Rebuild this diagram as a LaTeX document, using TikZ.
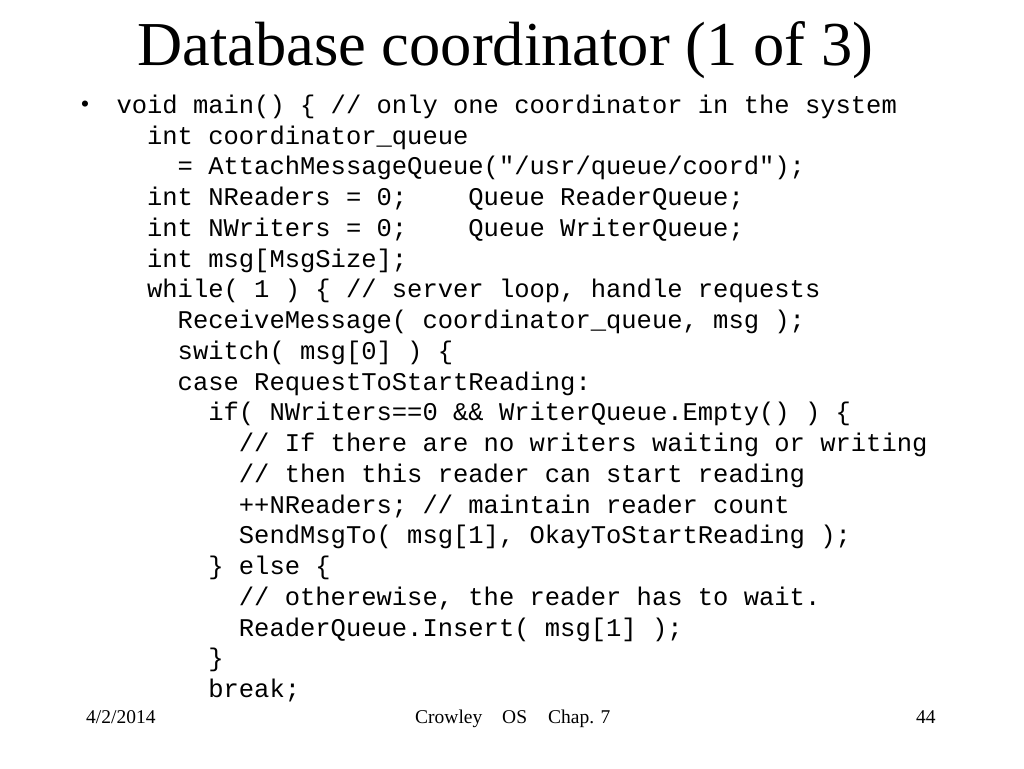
\documentclass[tikz,border=0pt]{standalone}
\usepackage{fontspec}
\setmainfont{Liberation Serif}
\setmonofont{Liberation Mono}
\begin{document}
\begin{tikzpicture}[x=1pt,y=-1pt,
  code/.style={anchor=base west,inner sep=0pt,outer sep=0pt,font=\fontsize{25.5}{30.74}\selectfont\ttfamily},
  title/.style={anchor=base west,inner sep=0pt,font=\fontsize{62.5}{70}\selectfont},
  foot/.style={anchor=base west,inner sep=0pt,font=\fontsize{19.5}{22}\selectfont}]
\path[use as bounding box,fill=white] (0,0) rectangle (1024,768);
\def\cx#1{116.5+#1*15.3}
\node[title] (ttl) at (137,66) {Database coordinator (1 of 3)};
\node[inner sep=0pt,font=\fontsize{25.5}{30}\selectfont] (bul) at (85,107) {•};
\node[code] (l0)  at ({\cx{0}},113.5) {void main() \{ // only one coordinator in the system};
\node[code] (l1)  at ({\cx{2}},144.24) {int coordinator\_queue};
\node[code] (l2)  at ({\cx{4}},174.98) {= AttachMessageQueue("/usr/queue/coord");};
\node[code] (l3)  at ({\cx{2}},205.72) {int NReaders = 0;~~~~Queue ReaderQueue;};
\node[code] (l4)  at ({\cx{2}},236.46) {int NWriters = 0;~~~~Queue WriterQueue;};
\node[code] (l5)  at ({\cx{2}},267.20) {int msg[MsgSize];};
\node[code] (l6)  at ({\cx{2}},297.94) {while( 1 ) \{ // server loop, handle requests};
\node[code] (l7)  at ({\cx{4}},328.68) {ReceiveMessage( coordinator\_queue, msg );};
\node[code] (l8)  at ({\cx{4}},359.42) {switch( msg[0] ) \{};
\node[code] (l9)  at ({\cx{4}},390.16) {case RequestToStartReading:};
\node[code] (l10) at ({\cx{6}},420.90) {if( NWriters==0 \&\& WriterQueue.Empty() ) \{};
\node[code] (l11) at ({\cx{8}},451.64) {// If there are no writers waiting or writing};
\node[code] (l12) at ({\cx{8}},482.38) {// then this reader can start reading};
\node[code] (l13) at ({\cx{8}},513.12) {++NReaders; // maintain reader count};
\node[code] (l14) at ({\cx{8}},543.86) {SendMsgTo( msg[1], OkayToStartReading );};
\node[code] (l15) at ({\cx{6}},574.60) {\} else \{};
\node[code] (l16) at ({\cx{8}},605.34) {// otherewise, the reader has to wait.};
\node[code] (l17) at ({\cx{8}},636.08) {ReaderQueue.Insert( msg[1] );};
\node[code] (l18) at ({\cx{6}},666.82) {\}};
\node[code] (l19) at ({\cx{6}},697.56) {break;};
\node[foot] (date) at (86,723) {4/2/2014};
\node[foot] (auth) at (415,723) {Crowley};
\node[foot] (os) at (502,723) {OS};
\node[foot] (chap) at (548,723) {Chap. 7};
\node[foot] (page) at (916,723) {44};
\end{tikzpicture}
\end{document}
